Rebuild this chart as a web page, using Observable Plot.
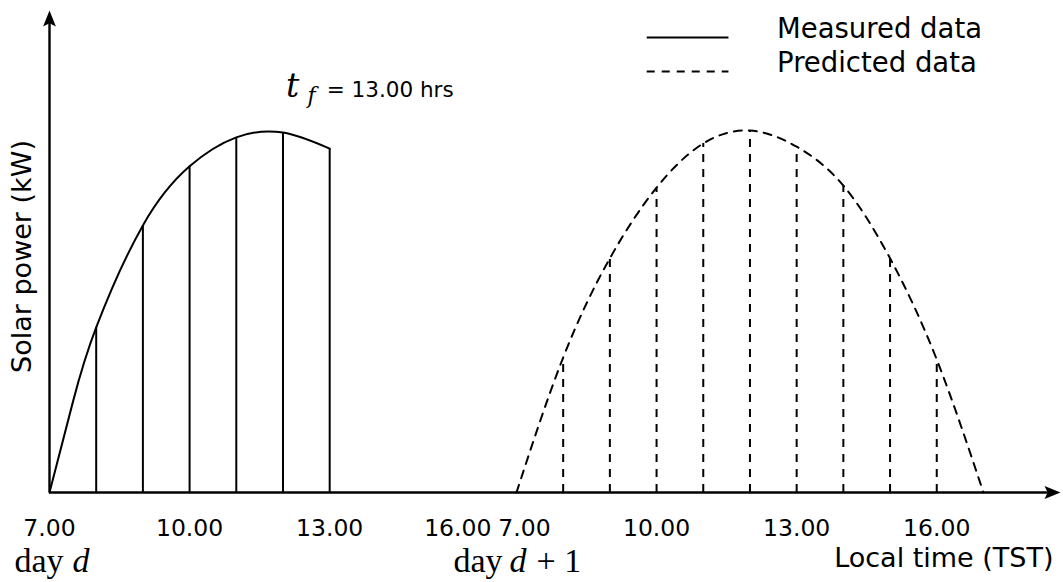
<!DOCTYPE html>
<html>
<head>
<meta charset="utf-8">
<script src="https://cdn.jsdelivr.net/npm/d3@7"></script>
<script src="https://cdn.jsdelivr.net/npm/@observablehq/plot@0.6"></script>
<style>
  body { margin: 0; background: #fff; }
</style>
</head>
<body>
<div id="chart"></div>
<script>
// Solar power (normalised kW) on day d, measured up to the forecast time t_f
const measuredHours = [7, 7.5, 8, 9, 10, 11, 12, 13];
const measuredPower = [0, 0.225, 0.411, 0.665, 0.812, 0.884, 0.896, 0.856];

// Predicted solar power for day d + 1
const predictedHours = [7, 8, 9, 10, 11, 12, 13, 14, 15, 16, 17];
const predictedPower = [0, 0.336, 0.583, 0.759, 0.869, 0.901, 0.861, 0.764, 0.583, 0.331, 0];

// Forecast time (hours TST)
const forecastTime = 13;

// Axis tick labels, repeated for each day
const tickHours = [7, 10, 13, 16];
const tickLabels = ["7.00", "10.00", "13.00", "16.00"];

// Legend entries
const legendLabels = ["Measured data", "Predicted data"];

// The time axis shows 07:00–16:00 of day d, then one spare hour, then day d + 1
const FIRST_HOUR = 7;
const DAY_SPAN = 10;
const X_MAX = 21.65;
const Y_MAX = 1.2;
const pos = (day, hour) => day * DAY_SPAN + hour - FIRST_HOUR;

const measured = measuredHours.map((h, i) => ({h, u: pos(0, h), power: measuredPower[i]}));
const predicted = predictedHours.map((h, i) => ({h, u: pos(1, h), power: predictedPower[i]}));
const ticksD0 = tickHours.map((h, i) => ({u: pos(0, h), label: tickLabels[i]}));
const ticksD1 = tickHours.map((h, i) => ({u: pos(1, h), label: tickLabels[i]}));

// vertical hour lines sit on the whole hours only
const hourly = d => Number.isInteger(d.h) && d.power > 0;

// Filled "stealth" arrow head, tip at the origin pointing up
const stealth = {
  draw(context, size) {
    const r = Math.sqrt(size / Math.PI);
    const L = 2 * r, w = 0.8 * r;
    context.moveTo(0, 0);
    context.lineTo(w, L);
    context.lineTo(0, 0.8 * L);
    context.lineTo(-w, L);
    context.closePath();
  }
};

const DASH = "8,7";
const legendX1 = 12.8, legendX2 = 14.55, legendTextX = 15.58;
const legendY = [1.133, 1.048];
const peak = d3.max(measuredPower);
const serif = "Liberation Serif";
const mathSerif = "DejaVu Serif";

const chart = Plot.plot({
  width: 1063,
  height: 582,
  marginLeft: 49,
  marginRight: 3,
  marginTop: 10,
  marginBottom: 90,
  x: {domain: [0, X_MAX], axis: null},
  y: {domain: [0, Y_MAX], axis: null},
  style: {fontFamily: "DejaVu Sans", background: "white", overflow: "visible"},
  marks: [
    // axes with arrow heads
    Plot.ruleY([0], {x1: 0, x2: X_MAX - 0.26, strokeWidth: 2.4}),
    Plot.ruleX([0], {y1: 0, y2: Y_MAX - 0.03, strokeWidth: 2.4}),
    Plot.dot([{u: X_MAX, v: 0}], {x: "u", y: "v", symbol: stealth, r: 8, rotate: 90, fill: "black", stroke: null}),
    Plot.dot([{u: 0, v: Y_MAX}], {x: "u", y: "v", symbol: stealth, r: 8, fill: "black", stroke: null}),

    // measured day d
    Plot.ruleX(measured.filter(hourly), {x: "u", y1: 0, y2: "power", strokeWidth: 2}),
    Plot.line(measured, {x: "u", y: "power", curve: "natural", strokeWidth: 2}),

    // predicted day d + 1
    Plot.ruleX(predicted.filter(hourly), {x: "u", y1: 0, y2: "power", strokeWidth: 2, strokeDasharray: DASH}),
    Plot.line(predicted, {x: "u", y: "power", curve: "natural", strokeWidth: 2, strokeDasharray: DASH}),

    // tick labels
    Plot.text(ticksD0.slice(0, 3), {x: "u", y: 0, text: "label", dy: 36, fontSize: 23.5}),
    Plot.text(ticksD0.slice(3), {x: "u", y: 0, text: "label", dy: 36, dx: -12, fontSize: 23.5}),
    Plot.text(ticksD1.slice(0, 1), {x: "u", y: 0, text: "label", dy: 36, dx: 8, fontSize: 23.5}),
    Plot.text(ticksD1.slice(1), {x: "u", y: 0, text: "label", dy: 36, fontSize: 23.5}),

    // day labels
    Plot.text(["day"], {x: pos(0, FIRST_HOUR), y: 0, textAnchor: "end", dx: 14, dy: 69, fontSize: 34, fontFamily: serif}),
    Plot.text(["d"], {x: pos(0, FIRST_HOUR), y: 0, textAnchor: "start", dx: 23, dy: 69, fontSize: 34, fontFamily: serif, fontStyle: "italic"}),
    Plot.text(["day"], {x: pos(1, FIRST_HOUR), y: 0, textAnchor: "end", dx: -14, dy: 69, fontSize: 34, fontFamily: serif}),
    Plot.text(["d"], {x: pos(1, FIRST_HOUR), y: 0, textAnchor: "start", dx: -7, dy: 69, fontSize: 34, fontFamily: serif, fontStyle: "italic"}),
    Plot.text(["+ 1"], {x: pos(1, FIRST_HOUR), y: 0, textAnchor: "start", dx: 20, dy: 69, fontSize: 34, fontFamily: serif}),

    // axis titles
    Plot.text(["Local time (TST)"], {x: X_MAX, y: 0, textAnchor: "end", dx: -7, dy: 65.4, fontSize: 27}),
    Plot.text(["Solar power (kW)"], {frameAnchor: "left", textAnchor: "middle", rotate: -90, dx: -27, dy: 5, fontSize: 27}),

    // forecast time annotation
    Plot.text(["t"], {x: pos(0, forecastTime), y: peak, dx: -37, dy: -46, fontSize: 33, fontFamily: mathSerif, fontStyle: "italic"}),
    Plot.text(["f"], {x: pos(0, forecastTime), y: peak, dx: -18, dy: -36.5, fontSize: 22, fontFamily: mathSerif, fontStyle: "italic"}),
    Plot.text([`= ${forecastTime.toFixed(2)} hrs`], {x: pos(0, forecastTime), y: peak, textAnchor: "start", dx: -3, dy: -42, fontSize: 21.5}),

    // legend
    Plot.ruleY([legendY[0]], {x1: legendX1, x2: legendX2, strokeWidth: 2}),
    Plot.ruleY([legendY[1]], {x1: legendX1, x2: legendX2, strokeWidth: 2, strokeDasharray: DASH}),
    Plot.text(legendLabels, {x: legendTextX, y: (d, i) => legendY[i], textAnchor: "start", dy: -8.6, fontSize: 27.5})
  ]
});

document.getElementById("chart").append(chart);
</script>
</body>
</html>
